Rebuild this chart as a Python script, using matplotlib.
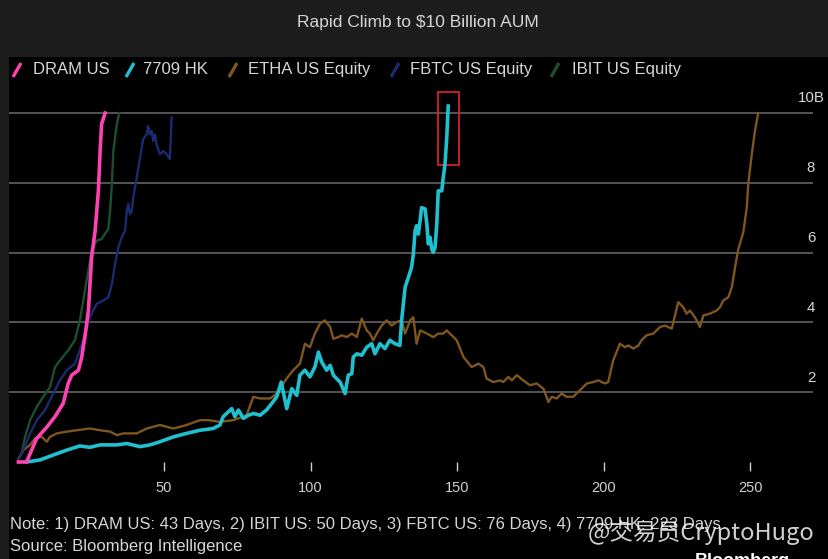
import matplotlib
matplotlib.use("Agg")
import matplotlib.pyplot as plt
from matplotlib import font_manager
from matplotlib.lines import Line2D
from matplotlib.patches import Rectangle
from matplotlib.transforms import blended_transform_factory

# days since launch -> AUM in $bn
dram_day = [0.3, 3.1, 4.8, 6.6, 10.0, 12.8, 15.6, 17.3, 18.5, 20.8, 21.9, 23.0, 24.2, 25.3, 26.5, 27.6, 28.2, 28.7, 29.9]
dram_val = [0.0, 0.0, 0.34, 0.68, 1.0, 1.3, 1.68, 2.25, 2.49, 2.63, 3.0, 3.58, 4.34, 5.87, 6.63, 7.77, 8.91, 9.68, 10.0]

ibit_day = [0.5, 1.4, 2.6, 4.3, 6.6, 8.8, 11.1, 12.8, 14.5, 17.3, 19.6, 21.3, 23.0, 24.2, 25.3, 27.0, 28.7, 31.0, 31.6, 32.2,
            32.7, 33.9, 34.7]
ibit_val = [0.1, 0.25, 0.72, 1.2, 1.58, 1.87, 2.15, 2.72, 2.91, 3.2, 3.49, 4.06, 4.91, 5.49, 6.06, 6.34, 6.39, 6.68, 7.2, 7.96,
            8.91, 9.68, 10.0]

fbtc_day = [0.5, 1.8, 2.6, 4.3, 6.6, 9.4, 12.2, 14.5, 16.8, 19.6, 21.3, 23.0, 24.7, 27.0, 29.3, 31.0, 32.2, 33.3, 34.4, 35.6,
            36.7, 37.3, 37.8, 38.4, 39.0, 39.5, 40.7, 41.8, 42.9, 44.1, 44.6, 45.2, 45.8, 46.3, 46.9, 47.5, 48.6, 49.8, 50.9, 52.0,
            52.6]
fbtc_val = [0.1, 0.35, 0.44, 0.82, 1.2, 1.49, 1.96, 2.34, 2.63, 2.82, 3.2, 3.68, 4.15, 4.53, 4.63, 4.72, 5.1, 5.68, 6.15, 6.44,
            6.63, 7.2, 7.39, 7.1, 7.2, 7.58, 8.15, 8.72, 9.25, 9.39, 9.63, 9.39, 9.49, 9.2, 9.39, 9.1, 8.82, 8.91, 8.82, 8.68,
            9.87]

hk_day = [3.1, 7.7, 12.2, 16.8, 21.3, 24.7, 28.2, 33.9, 37.3, 41.8, 45.2, 48.6, 53.2, 57.7, 62.3, 66.8, 69.1, 70.2, 72.0, 73.1,
          74.2, 75.4, 77.1, 78.8, 80.5, 82.8, 85.0, 86.8, 88.5, 90.0, 91.9, 93.6, 95.3, 96.4, 98.1, 99.8, 101.5, 102.7, 103.8, 105.5,
          106.7, 107.8, 108.9, 110.1, 111.8, 112.9, 114.1, 114.6, 115.8, 117.5, 119.2, 120.9, 122.0, 123.7, 125.4, 127.1, 128.8, 130.5, 131.1, 132.3,
          133.4, 134.5, 135.1, 135.7, 136.2, 136.8, 137.4, 137.9, 139.1, 139.7, 140.2, 140.8, 141.4, 141.9, 142.5, 143.1, 143.6, 144.8, 145.3, 145.9,
          146.5, 147.0]
hk_val = [0.0, 0.06, 0.2, 0.34, 0.46, 0.42, 0.49, 0.49, 0.53, 0.44, 0.49, 0.58, 0.72, 0.82, 0.91, 0.96, 1.06, 1.3, 1.44, 1.53,
          1.3, 1.49, 1.25, 1.34, 1.39, 1.34, 1.49, 1.68, 1.87, 2.29, 1.53, 2.1, 1.91, 2.49, 2.63, 2.44, 2.72, 3.15, 2.87, 2.63,
          2.77, 2.49, 2.39, 2.29, 1.96, 2.49, 2.53, 3.01, 3.1, 3.06, 3.29, 3.39, 3.1, 3.39, 3.25, 3.49, 3.39, 3.34, 4.06, 5.01,
          5.29, 5.58, 5.96, 6.63, 6.77, 6.53, 6.91, 7.29, 7.25, 6.82, 6.25, 6.44, 6.1, 6.01, 6.15, 6.82, 7.77, 7.77, 8.15, 8.53,
          9.29, 10.2]

etha_day = [0.3, 2.0, 4.3, 6.0, 8.3, 10.0, 11.1, 13.4, 16.8, 20.2, 24.7, 28.2, 31.6, 33.9, 36.1, 40.7, 44.1, 48.6, 53.2, 57.7,
            62.3, 65.1, 69.1, 73.7, 78.2, 80.5, 82.8, 86.2, 88.5, 91.9, 94.1, 96.4, 98.1, 99.8, 101.5, 103.2, 104.9, 106.7, 107.8, 109.5,
            110.6, 112.4, 114.1, 115.8, 117.5, 119.2, 120.3, 121.4, 122.6, 124.3, 126.0, 127.7, 129.4, 131.1, 132.3, 134.0, 135.1, 136.2, 137.4, 139.7,
            141.9, 143.6, 145.3, 146.5, 147.6, 149.9, 152.2, 155.0, 157.3, 159.0, 160.1, 162.4, 164.7, 165.8, 167.5, 168.7, 170.4, 172.6, 174.9, 177.2,
            179.5, 181.2, 182.3, 184.0, 185.7, 187.4, 189.7, 191.4, 194.3, 196.5, 198.2, 200.5, 201.6, 203.3, 205.6, 207.3, 208.5, 210.2, 211.9, 213.0,
            214.7, 217.0, 219.3, 221.0, 223.3, 225.5, 227.2, 228.4, 229.5, 231.2, 232.9, 234.1, 236.3, 238.6, 239.8, 240.9, 242.6, 243.8, 244.9, 246.0,
            247.7, 248.9, 249.4, 250.6, 251.7, 252.8]
etha_val = [0.1, 0.34, 0.49, 0.68, 0.72, 0.58, 0.72, 0.82, 0.87, 0.91, 0.96, 0.91, 0.87, 0.77, 0.82, 0.82, 0.96, 1.06, 0.96, 1.06,
            1.2, 1.2, 1.15, 1.2, 1.34, 1.87, 1.82, 1.82, 1.96, 2.4, 2.63, 2.82, 3.39, 3.29, 3.68, 3.96, 4.06, 3.87, 3.53, 3.58,
            3.63, 3.58, 3.68, 3.58, 4.11, 3.77, 3.68, 3.49, 3.68, 3.91, 4.06, 3.91, 4.01, 4.06, 3.68, 4.06, 4.15, 3.39, 3.77, 3.68,
            3.58, 3.68, 3.68, 3.77, 3.68, 3.49, 3.01, 2.72, 2.82, 2.72, 2.39, 2.29, 2.34, 2.29, 2.44, 2.34, 2.49, 2.34, 2.2, 2.25,
            2.1, 1.72, 1.87, 1.82, 1.96, 1.87, 1.87, 2.01, 2.25, 2.29, 2.34, 2.25, 2.29, 2.91, 3.39, 3.29, 3.34, 3.25, 3.34, 3.49,
            3.63, 3.68, 3.87, 3.91, 3.82, 4.58, 4.44, 4.25, 4.34, 4.15, 3.87, 4.2, 4.25, 4.34, 4.44, 4.63, 4.72, 5.01, 5.58, 6.1,
            6.58, 7.29, 7.96, 8.82, 9.49, 10.0]

series_names = ["DRAM US", "7709 HK", "ETHA US Equity", "FBTC US Equity", "IBIT US Equity"]
y_ticks = [2, 4, 6, 8, 10]
y_labels = ["2", "4", "6", "8", "10B"]
x_ticks = [50, 100, 150, 200, 250]
highlight = (143.6, 8.51, 150.7, 10.61)  # red box round the 7709 HK finish

title = "Rapid Climb to $10 Billion AUM"
note = "Note: 1) DRAM US: 43 Days, 2) IBIT US: 50 Days, 3) FBTC US: 76 Days, 4) 7709 HK: 223 Days"
source = "Source: Bloomberg Intelligence"

PINK, CYAN, BROWN, NAVY, GREEN = "#ff42b3", "#1fc0cf", "#80561f", "#1b2b70", "#1c4f2f"
TXT = "#d6d6d6"

installed = {f.name for f in font_manager.fontManager.ttflist}
base = "Liberation Sans" if "Liberation Sans" in installed else "DejaVu Sans"
plt.rcParams["font.family"] = [base, "Noto Sans CJK SC", "DejaVu Sans"]

W, H = 829, 559
fig = plt.figure(figsize=(W / 100, H / 100), dpi=100, facecolor="#1d1d1d")


def fx(px):
    return px / W


def fy(py):
    return 1 - py / H


# black chart panel
fig.add_artist(Rectangle((fx(9), 0), 1 - fx(9), fy(57), transform=fig.transFigure,
                         facecolor="black", edgecolor="none", zorder=-1))

ax = fig.add_axes([fx(9), fy(462), fx(813) - fx(9), fy(90) - fy(462)])
ax.patch.set_alpha(0)
ax.set_xlim(-2.9, 271.5)
ax.set_ylim(0, 10.66)
for s in ax.spines.values():
    s.set_visible(False)

ax.set_yticks(y_ticks)
ax.yaxis.grid(True, color="#5a5a5a", lw=1.3)
ax.set_axisbelow(True)
ax.tick_params(axis="y", length=0, labelleft=False)
ax.set_xticks(x_ticks)
ax.tick_params(axis="x", colors="#cfcfcf", length=6.5, width=1, pad=7, labelsize=10.5)

trans = blended_transform_factory(ax.transAxes, ax.transData)
for v, lab in zip(y_ticks, y_labels):
    ax.text(0.9975, v + 0.42, lab, transform=trans, ha="center", va="center",
            fontsize=10.8, color=TXT)

ax.plot(etha_day, etha_val, color=BROWN, lw=1.7, clip_on=False)
ax.plot(ibit_day, ibit_val, color=GREEN, lw=1.7, clip_on=False)
ax.plot(fbtc_day, fbtc_val, color=NAVY, lw=1.7, clip_on=False)
ax.plot(hk_day, hk_val, color=CYAN, lw=2.6, clip_on=False)
ax.plot(dram_day, dram_val, color=PINK, lw=2.6, clip_on=False)

x0, y0, x1, y1 = highlight
ax.add_patch(Rectangle((x0, y0), x1 - x0, y1 - y0, fill=False, ec="#d8202a", lw=1.3, clip_on=False))

# legend row with slash markers
legend_pos = [(13, 33), (126, 143), (229, 248), (391, 410), (551, 572)]
for name, col, (sx, tx) in zip(series_names, [PINK, CYAN, BROWN, NAVY, GREEN], legend_pos):
    fig.add_artist(Line2D([fx(sx), fx(sx + 8)], [fy(77), fy(63)], transform=fig.transFigure,
                          color=col, lw=2.4, solid_capstyle="butt"))
    fig.text(fx(tx), fy(70), name, ha="left", va="center", fontsize=12, color=TXT)

fig.text(fx(418), fy(22), title, ha="center", va="center", fontsize=12.5, color=TXT)
fig.text(fx(10), fy(525), note, ha="left", va="center", fontsize=12, color=TXT)
fig.text(fx(10), fy(547), source, ha="left", va="center", fontsize=12, color=TXT)

# watermark, plus the logo text that is cut by the bottom edge
fig.text(fx(588), fy(540), "@交易员CryptoHugo", ha="left", va="baseline", fontsize=17,
         family=["Noto Sans CJK SC", "DejaVu Sans"], color="white", alpha=0.82, fontweight="light")
fig.text(fx(695), fy(566), "Bloomberg", ha="left", va="baseline", fontsize=13, fontweight="bold", color="white")

fig.savefig("out.png", dpi=100, facecolor=fig.get_facecolor())
